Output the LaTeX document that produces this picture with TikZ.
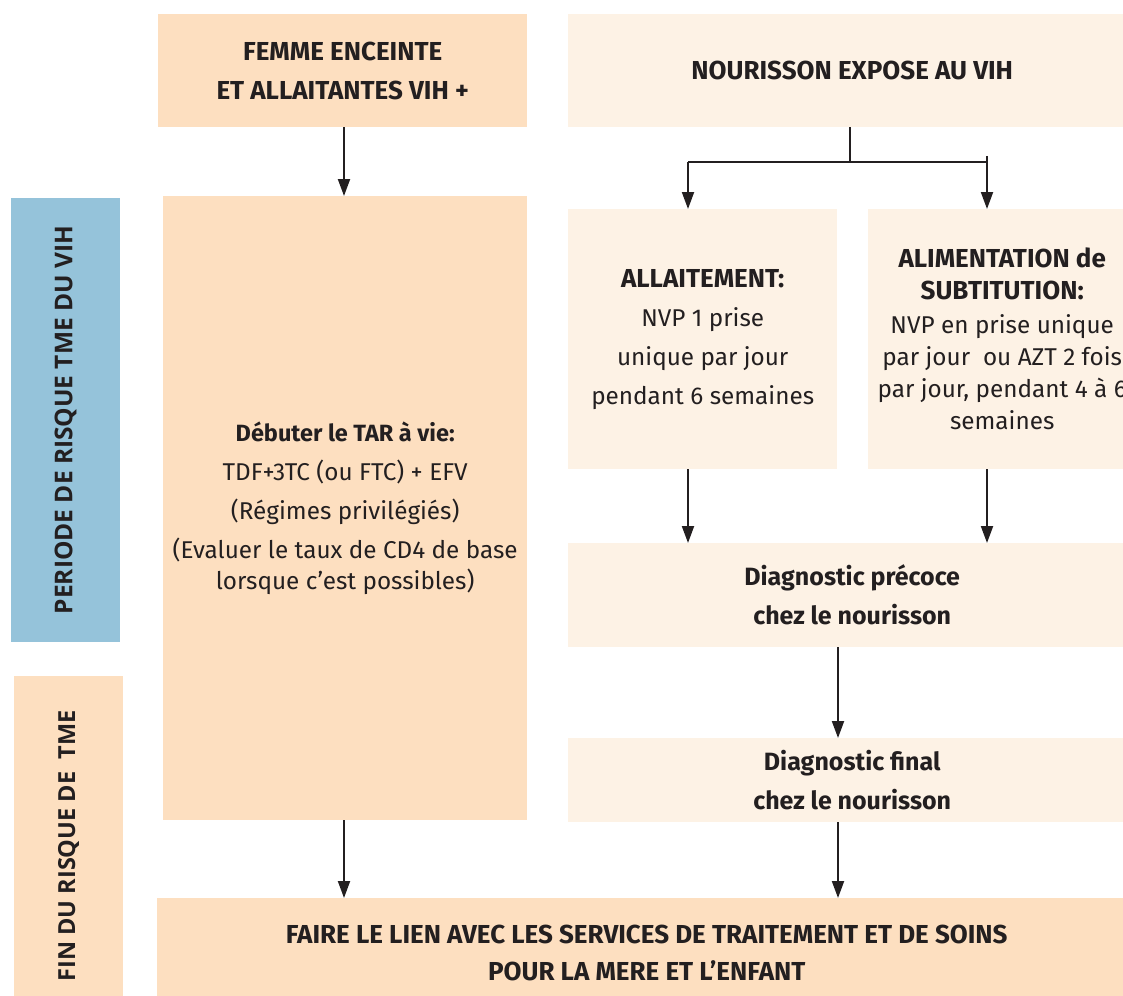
\documentclass[tikz,border=0pt]{standalone}
\usepackage{fontspec}
\setmainfont{Fira Sans}
\newfontfamily\cotefont{Open Sans}
\usetikzlibrary{arrows.meta}

\definecolor{peche}{HTML}{FDDFC0}
\definecolor{creme}{HTML}{FDF2E5}
\definecolor{bleu}{HTML}{95C3DA}
\definecolor{encre}{HTML}{231F20}

\newcommand{\titre}[1]{{\fontsize{26}{39}\selectfont\bfseries #1}}

\begin{document}
\begin{tikzpicture}[x=1pt, y=-1pt,
    boite/.style={anchor=north west, inner sep=0pt, align=center, text=encre,
      font=\fontsize{24.3}{39}\selectfont},
    majuscules/.style={font=\fontsize{26}{39}\selectfont\bfseries},
    cote/.style={rotate=90, inner sep=0pt, text=encre,
      font=\cotefont\fontsize{24.5}{28}\selectfont\bfseries},
    fleche/.style={draw=encre, line width=2pt, -{Triangle[length=17pt,width=12pt]}},
    trait/.style={draw=encre, line width=2pt}]

  \clip (0,0) rectangle (1123,995);

  % colonne mere
  \node[boite, majuscules, fill=peche, minimum width=369, minimum height=113] (femme) at (158,14)
    {FEMME ENCEINTE\\ET ALLAITANTES VIH +};
  \node[boite, fill=peche, minimum width=364, minimum height=624] (tarv) at (163,196)
    {{\fontsize{23.5}{39}\selectfont\bfseries Débuter le TAR à vie:}\\TDF+3TC (ou FTC) + EFV\\(Régimes privilégiés)\\
     (Evaluer le taux de CD4 de base\\[-8pt]lorsque c’est possibles)};

  % colonne enfant
  \node[boite, majuscules, fill=creme, minimum width=568, minimum height=113] (nourisson) at (568,14)
    {NOURISSON EXPOSE AU VIH};
  \node[boite, fill=creme, minimum width=269, minimum height=260] (allait) at (568,209)
    {\titre{ALLAITEMENT:}\\NVP 1 prise\\unique par jour\\pendant 6 semaines};
  \node[boite, fill=creme, minimum width=268, minimum height=260,
    font=\fontsize{24.3}{32}\selectfont] (alim) at (868,209)
    {\titre{ALIMENTATION de}\\\titre{SUBTITUTION:}\\[2pt]NVP en prise unique\\
     par jour~~ou AZT 2 fois\\par jour, pendant 4 à 6\\semaines};
  \node[boite, fill=creme, minimum width=568, minimum height=104,
    font=\fontsize{25}{39}\selectfont\bfseries] (precoce) at (568,543)
    {Diagnostic précoce\\chez le nourisson};
  \node[boite, fill=creme, minimum width=568, minimum height=84,
    font=\fontsize{25}{39}\selectfont\bfseries] (final) at (568,738)
    {Diagnostic final\\chez le nourisson};

  % lien commun
  \node[boite, majuscules, fill=peche, minimum width=979, minimum height=110,
    font=\fontsize{26}{37}\selectfont\bfseries] (lien) at (157,898)
    {FAIRE LE LIEN AVEC LES SERVICES DE TRAITEMENT ET DE SOINS\\POUR LA MERE ET L’ENFANT};

  % periodes
  \node[cote, fill=bleu, minimum width=444, minimum height=109] (periode) at (65.5,420)
    {PERIODE DE RISQUE TME DU VIH};
  \node[cote, fill=peche, minimum width=340, minimum height=109,
    font=\cotefont\fontsize{23.5}{28}\selectfont\bfseries] (fin) at (68.5,846)
    {FIN DU RISQUE DE~~TME};

  % fleches
  \coordinate (gauche) at (688,162);
  \coordinate (droite) at (987,162);
  \coordinate (axe) at (838,0);

  \draw[fleche] (femme.south -| 344,0) -- (344,0 |- tarv.north);
  \draw[trait] (nourisson.south -| 850,0) -- (850,0 |- gauche);
  \draw[trait] (gauche) -- (droite);
  \draw[fleche] (gauche) -- (gauche |- allait.north);
  \draw[fleche] ([yshift=6pt]droite) -- (droite |- alim.north);
  \draw[fleche] (allait.south -| gauche) -- (gauche |- precoce.north);
  \draw[fleche] (alim.south -| droite) -- (droite |- precoce.north);
  \draw[fleche] (precoce.south -| axe) -- (axe |- final.north);
  \draw[fleche] (final.south -| axe) -- (axe |- lien.north);
  \draw[fleche] (tarv.south -| 344,0) -- (344,0 |- lien.north);
\end{tikzpicture}
\end{document}
